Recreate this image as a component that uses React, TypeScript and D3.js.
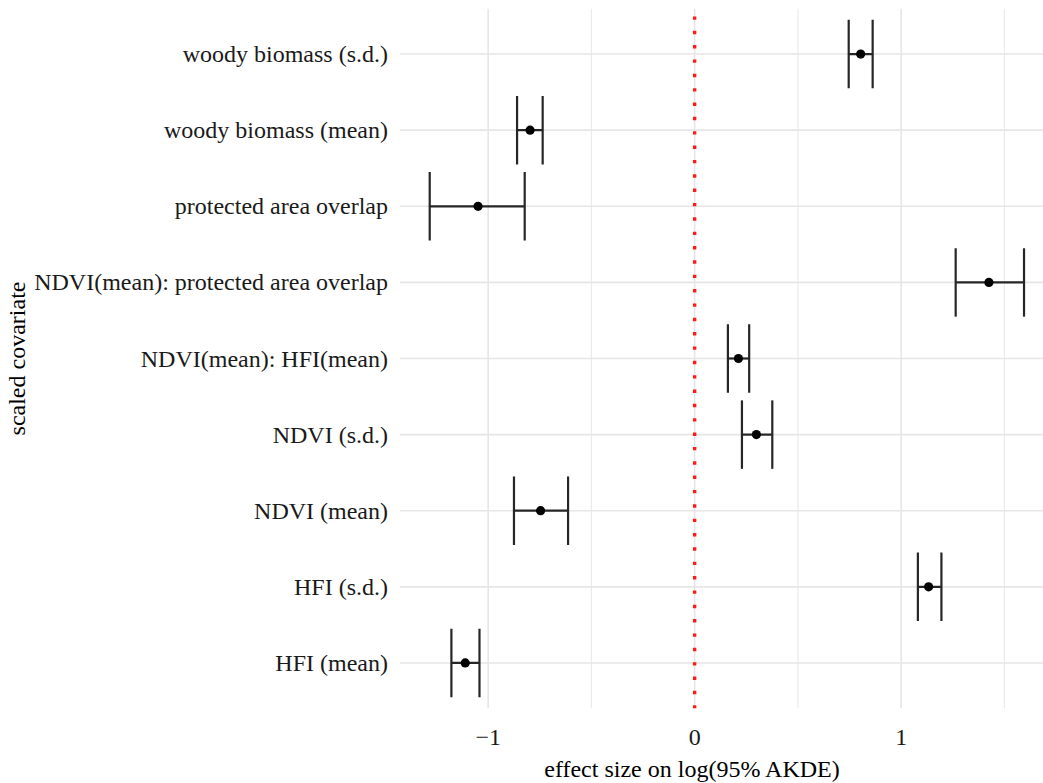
import React from "react";
import * as d3 from "d3";

const covariates = [
  "woody biomass (s.d.)",
  "woody biomass (mean)",
  "protected area overlap",
  "NDVI(mean): protected area overlap",
  "NDVI(mean): HFI(mean)",
  "NDVI (s.d.)",
  "NDVI (mean)",
  "HFI (s.d.)",
  "HFI (mean)",
];
const estimate = [0.804, -0.797, -1.049, 1.425, 0.212, 0.299, -0.746, 1.133, -1.111];
const lower = [0.746, -0.86, -1.283, 1.264, 0.161, 0.229, -0.875, 1.081, -1.178];
const upper = [0.862, -0.736, -0.823, 1.595, 0.264, 0.376, -0.613, 1.195, -1.042];
const majorTicks = [-1, 0, 1];
const minorTicks = [-1.5, -0.5, 0.5, 1.5];
const tickLabels = ["\u22121", "0", "1"];

const W = 1043;
const H = 783;
const FONT = "'Liberation Serif', 'Times New Roman', serif";

export default function App() {
  const lo = d3.min(lower) as number;
  const hi = d3.max(upper) as number;
  const pad = (hi - lo) * 0.05;
  const panelLeft = 400;
  const panelTop = 8.4;
  const panelBottom = 708.6;
  const pxPerUnit = 206.5;
  const x = d3
    .scaleLinear()
    .domain([lo - pad, hi + pad])
    .range([panelLeft, panelLeft + (hi - lo + 2 * pad) * pxPerUnit]);
  const y = d3.scalePoint<string>().domain(covariates).range([panelTop, panelBottom]).padding(0.6);
  const step = y.step();
  const capHalf = step * 0.45;
  const [x0, x1] = x.range();
  const [d0, d1] = x.domain();

  return (
    <svg
      width={W}
      height={H}
      style={{ position: "absolute", left: 0, top: 0, background: "#fff" }}
      fontFamily={FONT}
    >
      <defs>
        <clipPath id="panel">
          <rect x={x0} y={panelTop} width={x1 - x0} height={panelBottom - panelTop} />
        </clipPath>
      </defs>
      <g clipPath="url(#panel)">
        {minorTicks
          .filter((t) => t >= d0 && t <= d1)
          .map((t) => (
            <line key={"mn" + t} x1={x(t)} x2={x(t)} y1={panelTop} y2={panelBottom} stroke="#ebebeb" strokeWidth={1.2} />
          ))}
        {majorTicks.map((t) => (
          <line key={"mj" + t} x1={x(t)} x2={x(t)} y1={panelTop} y2={panelBottom} stroke="#e6e6e6" strokeWidth={1.6} />
        ))}
        {covariates.map((c) => (
          <line key={"h" + c} x1={x0} x2={x1} y1={y(c)} y2={y(c)} stroke="#e6e6e6" strokeWidth={1.6} />
        ))}
        <line
          x1={x(0)}
          x2={x(0)}
          y1={panelBottom}
          y2={panelTop}
          stroke="#ff1a1a"
          strokeWidth={3.4}
          strokeDasharray="3.4 10.95"
        />
        {covariates.map((c, i) => {
          const cy = y(c) as number;
          return (
            <g key={"e" + c} stroke="#262626" strokeWidth={2.2}>
              <line x1={x(lower[i])} x2={x(upper[i])} y1={cy} y2={cy} />
              <line x1={x(lower[i])} x2={x(lower[i])} y1={cy - capHalf} y2={cy + capHalf} />
              <line x1={x(upper[i])} x2={x(upper[i])} y1={cy - capHalf} y2={cy + capHalf} />
              <circle cx={x(estimate[i])} cy={cy} r={4.6} fill="#000" stroke="none" />
            </g>
          );
        })}
      </g>
      {covariates.map((c) => (
        <text
          key={"yl" + c}
          x={388}
          y={y(c)}
          textAnchor="end"
          dominantBaseline="central"
          fontSize={24}
          fill="#1a1a1a"
        >
          {c}
        </text>
      ))}
      {majorTicks.map((t, i) => (
        <text key={"xl" + t} x={x(t)} y={737} textAnchor="middle" dominantBaseline="central" fontSize={24} fill="#1a1a1a">
          {tickLabels[i]}
        </text>
      ))}
      <text x={692} y={769} textAnchor="middle" dominantBaseline="central" fontSize={24} fill="#000">
        effect size on log(95% AKDE)
      </text>
      <text
        transform={`translate(17, ${(panelTop + panelBottom) / 2}) rotate(-90)`}
        textAnchor="middle"
        dominantBaseline="central"
        fontSize={24}
        fill="#000"
      >
        scaled covariate
      </text>
    </svg>
  );
}
